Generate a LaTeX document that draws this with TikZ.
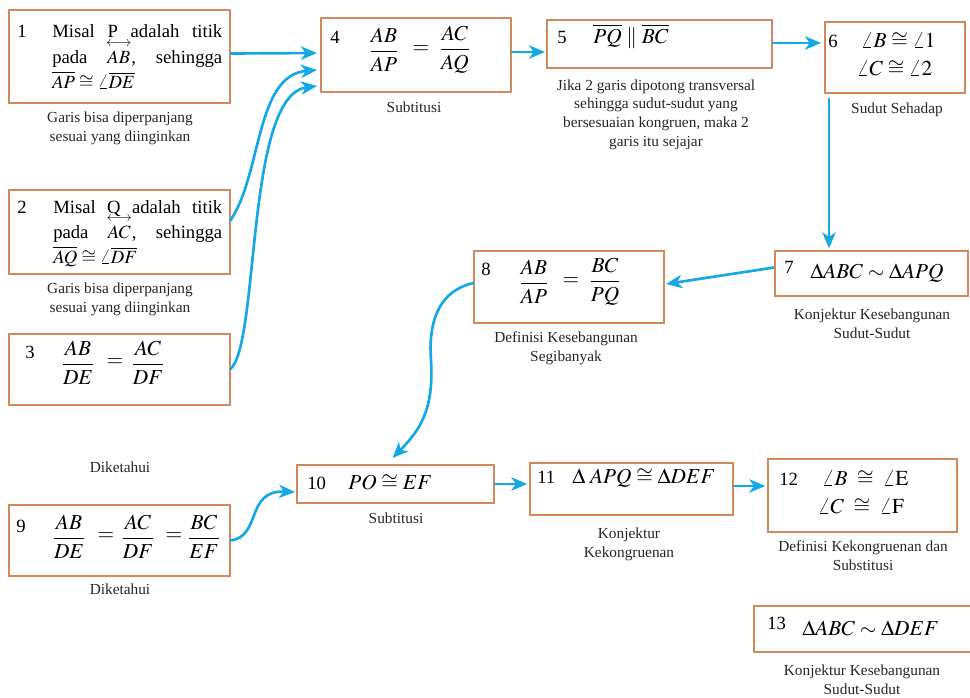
\documentclass[tikz,border=0pt]{standalone}
\usepackage{amsmath}
\usepackage{mathptmx}
\usepackage{fontspec}
\setmainfont{Liberation Serif}
\usetikzlibrary{arrows.meta,calc}
\definecolor{boxc}{HTML}{D4895B}
\definecolor{arrc}{HTML}{14A8E6}
\newcommand{\lrseg}[1]{\vphantom{#1}\smash{\overset{\scriptstyle\longleftrightarrow}{#1}}}
\begin{document}
\begin{tikzpicture}[x=0.75pt,y=-0.75pt,
  box/.style={draw=boxc, line width=2pt, rectangle, inner sep=0pt, outer sep=0pt, anchor=north west},
  arr/.style={draw=arrc, line width=2pt, -{Stealth[length=12pt,width=10pt,inset=3.5pt]}},
  num/.style={inner sep=0pt, anchor=base west, font=\fontsize{14}{17}\selectfont},
  txt/.style={inner sep=0pt, anchor=base west, font=\fontsize{14}{17}\selectfont},
  mth/.style={inner sep=0pt, anchor=base west, font=\fontsize{16}{19}\selectfont},
  frc/.style={inner sep=0pt, anchor=center, font=\fontsize{16}{19}\selectfont},
  captxt/.style={inner sep=0pt, anchor=base, align=center, font=\fontsize{11.5}{14}\selectfont, text=black!85}
]
\useasboundingbox (0,0) rectangle (970,697);

% boxes
\node[box, minimum width=165.75pt, minimum height=69.75pt] (b1) at (9,10) {};
\node[box, minimum width=165.75pt, minimum height=63pt] (b2) at (9,190) {};
\node[box, minimum width=165.75pt, minimum height=53.25pt] (b3) at (9,334) {};
\node[box, minimum width=165.75pt, minimum height=53.25pt] (b9) at (9,505) {};
\node[box, minimum width=142.5pt, minimum height=55.5pt] (b4) at (321,18) {};
\node[box, minimum width=168.75pt, minimum height=36pt] (b5) at (547,20) {};
\node[box, minimum width=105pt, minimum height=53.25pt] (b6) at (825,22) {};
\node[box, minimum width=144.75pt, minimum height=33.75pt] (b7) at (775,251) {};
\node[box, minimum width=142.5pt, minimum height=54pt] (b8) at (474,251) {};
\node[box, minimum width=147.75pt, minimum height=28.5pt] (b10) at (297,465) {};
\node[box, minimum width=152.25pt, minimum height=39pt] (b11) at (530,463) {};
\node[box, minimum width=141.75pt, minimum height=54.75pt] (b12) at (768,459) {};
\node[box, minimum width=163.5pt, minimum height=34.5pt] (b13) at (754,606) {};

% box 1
\node[num] (n1) at (17,37) {1};
\node[txt] (t1a) at (52,37) {\makebox[127.5pt][s]{Misal P adalah titik}};
\node[txt] (t1b) at (52,63) {\makebox[127.5pt][s]{pada \ $\lrseg{AB}$, \ sehingga}};
\node[txt] (t1c) at (52,88) {$\overline{AP}\cong\angle\overline{DE}$};
% box 2
\node[num] (n2) at (17,213) {2};
\node[txt] (t2a) at (53,213) {\makebox[126.75pt][s]{Misal Q adalah titik}};
\node[txt] (t2b) at (53,238) {\makebox[126.75pt][s]{pada \ $\lrseg{AC}$, \ sehingga}};
\node[txt] (t2c) at (53,263) {$\overline{AQ}\cong\angle\overline{DF}$};
% box 3
\node[num] (n3) at (25,358) {3};
\node[frc] (f3a) at (78,363) {$\dfrac{AB}{DE}$};
\node[frc] (e3) at (115,363) {$=$};
\node[frc] (f3b) at (148,363) {$\dfrac{AC}{DF}$};
% box 4
\node[num] (n4) at (330,43) {4};
\node[frc] (f4a) at (384,50) {$\dfrac{AB}{AP}$};
\node[frc] (e4) at (421,50) {$=$};
\node[frc] (f4b) at (455,50) {$\dfrac{AC}{AQ}$};
% box 5
\node[num] (n5) at (557,43) {5};
\node[mth] (m5) at (593,43) {$\overline{PQ}\parallel\overline{BC}$};
% box 6
\node[num] (n6) at (828,47) {6};
\node[mth] (m6a) at (861,47) {$\angle B\cong\angle 1$};
\node[mth] (m6b) at (857,75) {$\angle C\cong\angle 2$};
% box 7
\node[num] (n7) at (784,273) {7};
\node[mth] (m7) at (810,278) {$\Delta ABC\sim\Delta APQ$};
% box 8
\node[num] (n8) at (481,275) {8};
\node[frc] (f8a) at (534,282) {$\dfrac{AB}{AP}$};
\node[frc] (e8) at (571,282) {$=$};
\node[frc] (f8b) at (605,282) {$\dfrac{BC}{PQ}$};
% box 9
\node[num] (n9) at (16,532) {9};
\node[frc] (f9a) at (69,537) {$\dfrac{AB}{DE}$};
\node[frc] (e9a) at (106,537) {$=$};
\node[frc] (f9b) at (138,537) {$\dfrac{AC}{DF}$};
\node[frc] (e9b) at (174,537) {$=$};
\node[frc] (f9c) at (204,537) {$\dfrac{BC}{EF}$};
% box 10
\node[num] (n10) at (307,489) {10};
\node[mth] (m10) at (348,489) {$PO\cong EF$};
% box 11
\node[num] (n11) at (537,483) {11};
\node[mth] (m11) at (572,483) {$\Delta\;APQ\cong\Delta DEF$};
% box 12
\node[num] (n12) at (779,485) {12};
\node[mth] (m12a) at (822,485) {$\angle B\;\cong\;\angle\mathrm{E}$};
\node[mth] (m12b) at (818,513) {$\angle C\;\cong\;\angle\mathrm{F}$};
% box 13
\node[num] (n13) at (767,629) {13};
\node[mth] (m13) at (802,635) {$\Delta ABC\sim\Delta DEF$};

% captions (anchor = baseline of the last line)
\node[captxt] (c1) at (120,141) {Garis bisa diperpanjang\\sesuai yang diinginkan};
\node[captxt] (c2) at (120,312) {Garis bisa diperpanjang\\sesuai yang diinginkan};
\node[captxt] (c3) at (120,472) {Diketahui};
\node[captxt] (c9) at (120,594) {Diketahui};
\node[captxt] (c4) at (414,112) {Subtitusi};
\node[captxt] (c5) at (656,146) {Jika 2 garis dipotong transversal\\sehingga sudut-sudut yang\\bersesuaian kongruen, maka 2\\garis itu sejajar};
\node[captxt] (c6) at (897,113) {Sudut Sehadap};
\node[captxt] (c7) at (872,338) {Konjektur Kesebangunan\\Sudut-Sudut};
\node[captxt] (c8) at (566,361) {Definisi Kesebangunan\\Segibanyak};
\node[captxt] (c10) at (396,523) {Subtitusi};
\node[captxt] (c11) at (629,557) {Konjektur\\Kekongruenan};
\node[captxt] (c12) at (863,570) {Definisi Kekongruenan dan\\Substitusi};
\node[captxt] (c13) at (862,694) {Konjektur Kesebangunan\\Sudut-Sudut};

% connectors
\draw[arr] ($(b1.east)+(0,-3)$) -- ($(b4.west)+(-4,-2)$);
\draw[arr] ($(b2.east)+(0,-11)$) .. controls (262,175) and (255,75) .. ($(b4.west)+(-4,15)$);
\draw[arr] (b3.east) .. controls (260,345) and (245,95) .. ($(b4.west)+(-4,31)$);
\coordinate (a45) at ($(b4.east)+(0,-3)$);
\draw[arr, shorten >=1.5pt] (a45) -- (a45 -| b5.west);
\coordinate (a56) at ($(b5.east)+(0,-1)$);
\draw[arr, shorten >=3pt] (a56) -- (a56 -| b6.west);
\coordinate (a67) at ($(b6.south west)+(4,5)$);
\draw[arr, shorten >=2pt] (a67) -- (a67 |- b7.north);
\draw[arr] ($(b7.west)+(-1,-6)$) -- ($(b8.east)+(2,-3)$);
\draw[arr] ($(b8.west)+(0,-4)$) .. controls (440,290) and (428,320) .. (431,360)
   .. controls (434,410) and (420,430) .. ($(b10.north)+(-3,-7)$);
\draw[arr] (b9.east) .. controls (262,537) and (245,490) .. ($(b10.west)+(-2,8)$);
\draw[arr, shorten >=2pt] (b10.east) -- (b10.east -| b11.west);
\coordinate (a1112) at ($(b11.east)+(0,-3)$);
\draw[arr, shorten >=2pt] (a1112) -- (a1112 -| b12.west);
\end{tikzpicture}
\end{document}
